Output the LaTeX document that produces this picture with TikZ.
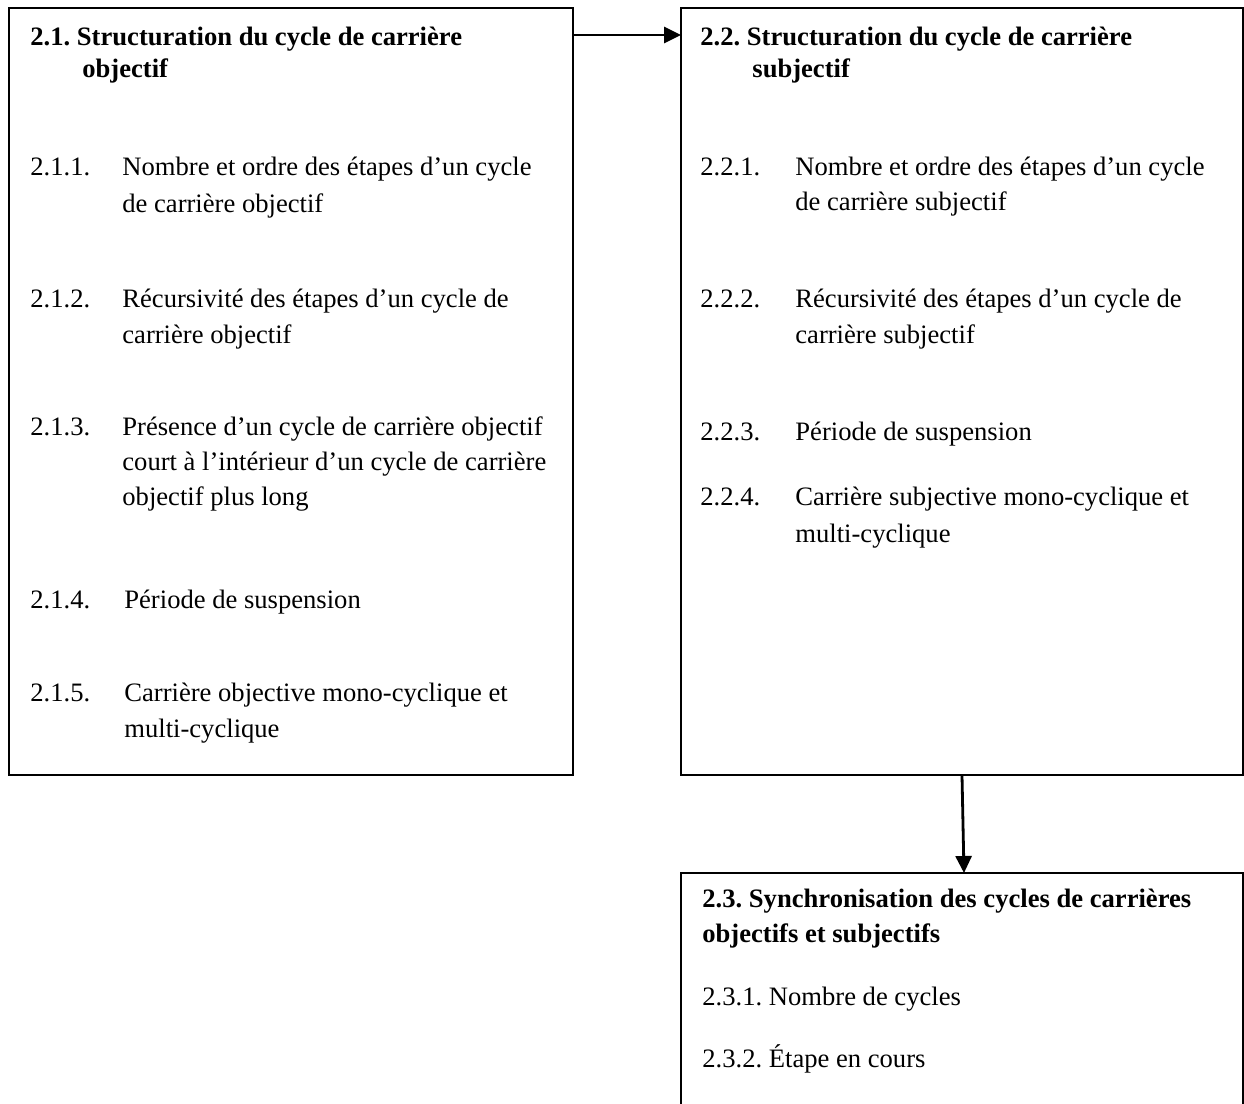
\documentclass[tikz,border=0pt]{standalone}
\usepackage{fontspec}
\setmainfont{Liberation Serif}
\usetikzlibrary{arrows.meta}
\frenchspacing

\begin{document}
\begin{tikzpicture}[x=0.5pt, y=-0.5pt, >={Triangle[length=8.5pt,width=8pt]},
  box/.style={draw, line width=1pt, inner sep=0pt, outer sep=0pt, anchor=north west},
  head/.style={anchor=base west, inner sep=0pt, font=\fontsize{13.3}{15}\selectfont\bfseries},
  txt/.style={anchor=base west, inner sep=0pt, font=\fontsize{13.3}{15}\selectfont},
  conn/.style={->, line width=1.4pt}]
\useasboundingbox (0,0) rectangle (1244,1104);
\clip (0,0) rectangle (1244,1104);
% boxes
\node[box, minimum width=282pt, minimum height=383.5pt] (b1) at (9,8) {};
\node[box, minimum width=281pt, minimum height=383.5pt] (b2) at (681,8) {};
\node[box, minimum width=281pt, minimum height=300pt] (b3) at (681,873) {};
% left box
\node[head] (h1a) at (30,45) {2.1. Structuration du cycle de carrière};
\node[head] (h1b) at (82,77) {objectif};
\node[txt] (n211) at (30,175) {2.1.1.};\node[txt] (t211a) at (122,175) {Nombre et ordre des étapes d’un cycle};
\node[txt] (t211b) at (122,212) {de carrière objectif};
\node[txt] (n212) at (30,307) {2.1.2.};\node[txt] (t212a) at (122,307) {Récursivité des étapes d’un cycle de};
\node[txt] (t212b) at (122,343) {carrière objectif};
\node[txt] (n213) at (30,435) {2.1.3.};\node[txt] (t213a) at (122,435) {Présence d’un cycle de carrière objectif};
\node[txt] (t213b) at (122,470) {court à l’intérieur d’un cycle de carrière};
\node[txt] (t213c) at (122,505) {objectif plus long};
\node[txt] (n214) at (30,608) {2.1.4.};\node[txt] (t214a) at (124,608) {Période de suspension};
\node[txt] (n215) at (30,701) {2.1.5.};\node[txt] (t215a) at (124,701) {Carrière objective mono-cyclique et};
\node[txt] (t215b) at (124,737) {multi-cyclique};
% right box
\node[head] (h2a) at (700,45) {2.2. Structuration du cycle de carrière};
\node[head] (h2b) at (752,77) {subjectif};
\node[txt] (n221) at (700,175) {2.2.1.};\node[txt] (t221a) at (795,175) {Nombre et ordre des étapes d’un cycle};
\node[txt] (t221b) at (795,210) {de carrière subjectif};
\node[txt] (n222) at (700,307) {2.2.2.};\node[txt] (t222a) at (795,307) {Récursivité des étapes d’un cycle de};
\node[txt] (t222b) at (795,343) {carrière subjectif};
\node[txt] (n223) at (700,440) {2.2.3.};\node[txt] (t223a) at (795,440) {Période de suspension};
\node[txt] (n224) at (700,505) {2.2.4.};\node[txt] (t224a) at (795,505) {Carrière subjective mono-cyclique et};
\node[txt] (t224b) at (795,542) {multi-cyclique};
% bottom box
\node[head] (h3a) at (702,907) {2.3. Synchronisation des cycles de carrières};
\node[head] (h3b) at (702,942) {objectifs et subjectifs};
\node[txt] (t231) at (702,1005) {2.3.1. Nombre de cycles};
\node[txt] (t232) at (702,1067) {2.3.2. Étape en cours};
% arrows
\draw[conn] ([yshift=-13.5pt]b1.north east) -- ([yshift=-13.5pt]b2.north west);
\draw[conn] (b2.south) -- ([xshift=1pt]b3.north);
\end{tikzpicture}
\end{document}
